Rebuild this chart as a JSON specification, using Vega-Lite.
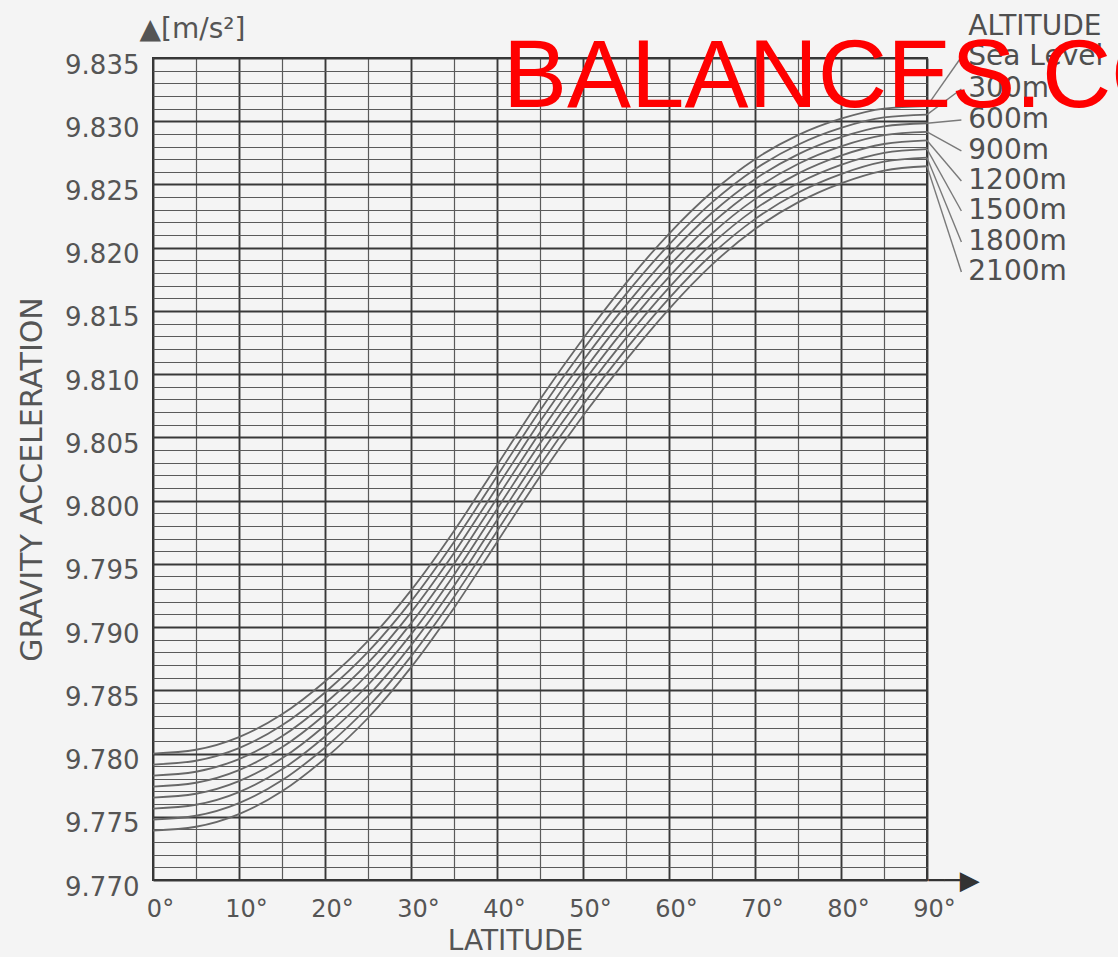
{
  "$schema": "https://vega.github.io/schema/vega-lite/v6.json",
  "width": 774,
  "height": 822,
  "autosize": {"type": "none"},
  "padding": {"left": 153, "top": 58, "right": 191, "bottom": 77},
  "background": "#f4f4f4",
  "title": {"text": "BALANCES.COM", "anchor": "start", "frame": "group", "orient": "top", "offset": 0, "dx": 350, "dy": 190, "fontSize": 96, "font": "Liberation Sans", "fontWeight": "normal", "color": "#ff0000", "baseline": "alphabetic", "zindex": 1},
  "config": {"view": {"stroke": "#333333", "strokeWidth": 2}, "font": "DejaVu Sans"},
  "datasets": {
    "curves": [
      {"lat": 0, "Sea Level": 9.78, "300m": 9.77913, "600m": 9.77826, "900m": 9.77739, "1200m": 9.77652, "1500m": 9.77565, "1800m": 9.77478, "2100m": 9.77391},
      {"lat": 5, "Sea Level": 9.7803, "300m": 9.77943, "600m": 9.77856, "900m": 9.77769, "1200m": 9.77682, "1500m": 9.77595, "1800m": 9.77508, "2100m": 9.77421},
      {"lat": 10, "Sea Level": 9.7813, "300m": 9.78043, "600m": 9.77956, "900m": 9.77869, "1200m": 9.77782, "1500m": 9.77695, "1800m": 9.77608, "2100m": 9.77521},
      {"lat": 15, "Sea Level": 9.7831, "300m": 9.78223, "600m": 9.78136, "900m": 9.78049, "1200m": 9.77962, "1500m": 9.77875, "1800m": 9.77788, "2100m": 9.77701},
      {"lat": 20, "Sea Level": 9.7857, "300m": 9.78483, "600m": 9.78396, "900m": 9.78309, "1200m": 9.78222, "1500m": 9.78135, "1800m": 9.78048, "2100m": 9.77961},
      {"lat": 25, "Sea Level": 9.7889, "300m": 9.78803, "600m": 9.78716, "900m": 9.78629, "1200m": 9.78542, "1500m": 9.78455, "1800m": 9.78368, "2100m": 9.78281},
      {"lat": 30, "Sea Level": 9.7929, "300m": 9.79203, "600m": 9.79116, "900m": 9.79029, "1200m": 9.78942, "1500m": 9.78855, "1800m": 9.78768, "2100m": 9.78681},
      {"lat": 35, "Sea Level": 9.7976, "300m": 9.79673, "600m": 9.79586, "900m": 9.79499, "1200m": 9.79412, "1500m": 9.79325, "1800m": 9.79238, "2100m": 9.79151},
      {"lat": 40, "Sea Level": 9.8028, "300m": 9.80193, "600m": 9.80106, "900m": 9.80019, "1200m": 9.79932, "1500m": 9.79845, "1800m": 9.79758, "2100m": 9.79671},
      {"lat": 45, "Sea Level": 9.808, "300m": 9.80713, "600m": 9.80626, "900m": 9.80539, "1200m": 9.80452, "1500m": 9.80365, "1800m": 9.80278, "2100m": 9.80191},
      {"lat": 50, "Sea Level": 9.8128, "300m": 9.81193, "600m": 9.81106, "900m": 9.81019, "1200m": 9.80932, "1500m": 9.80845, "1800m": 9.80758, "2100m": 9.80671},
      {"lat": 55, "Sea Level": 9.8172, "300m": 9.81633, "600m": 9.81546, "900m": 9.81459, "1200m": 9.81372, "1500m": 9.81285, "1800m": 9.81198, "2100m": 9.81111},
      {"lat": 60, "Sea Level": 9.8211, "300m": 9.82025, "600m": 9.8194, "900m": 9.81855, "1200m": 9.8177, "1500m": 9.81685, "1800m": 9.816, "2100m": 9.81515},
      {"lat": 65, "Sea Level": 9.8244, "300m": 9.82358, "600m": 9.82276, "900m": 9.82194, "1200m": 9.82112, "1500m": 9.8203, "1800m": 9.81948, "2100m": 9.81866},
      {"lat": 70, "Sea Level": 9.827, "300m": 9.82621, "600m": 9.82542, "900m": 9.82463, "1200m": 9.82384, "1500m": 9.82305, "1800m": 9.82226, "2100m": 9.82147},
      {"lat": 75, "Sea Level": 9.8289, "300m": 9.82814, "600m": 9.82738, "900m": 9.82662, "1200m": 9.82586, "1500m": 9.8251, "1800m": 9.82434, "2100m": 9.82358},
      {"lat": 80, "Sea Level": 9.8302, "300m": 9.82947, "600m": 9.82874, "900m": 9.82801, "1200m": 9.82728, "1500m": 9.82655, "1800m": 9.82582, "2100m": 9.82509},
      {"lat": 85, "Sea Level": 9.831, "300m": 9.8303, "600m": 9.8296, "900m": 9.8289, "1200m": 9.8282, "1500m": 9.8275, "1800m": 9.8268, "2100m": 9.8261},
      {"lat": 90, "Sea Level": 9.8312, "300m": 9.83052, "600m": 9.82984, "900m": 9.82916, "1200m": 9.82848, "1500m": 9.8278, "1800m": 9.82712, "2100m": 9.82644}
    ],
    "leaders": [
      {"alt": "Sea Level", "lat": 90, "g": 9.8312}, {"alt": "Sea Level", "lat": 94, "g": 9.83508},
      {"alt": "300m", "lat": 90, "g": 9.83052}, {"alt": "300m", "lat": 94, "g": 9.83255},
      {"alt": "600m", "lat": 90, "g": 9.82984}, {"alt": "600m", "lat": 94, "g": 9.8301},
      {"alt": "900m", "lat": 90, "g": 9.82916}, {"alt": "900m", "lat": 94, "g": 9.82765},
      {"alt": "1200m", "lat": 90, "g": 9.82848}, {"alt": "1200m", "lat": 94, "g": 9.82527},
      {"alt": "1500m", "lat": 90, "g": 9.8278}, {"alt": "1500m", "lat": 94, "g": 9.8229},
      {"alt": "1800m", "lat": 90, "g": 9.82712}, {"alt": "1800m", "lat": 94, "g": 9.82045},
      {"alt": "2100m", "lat": 90, "g": 9.82644}, {"alt": "2100m", "lat": 94, "g": 9.81808}
    ],
    "labels": [
      {"label": "ALTITUDE", "lat": 94.8, "g": 9.83745},
      {"label": "Sea Level", "lat": 94.8, "g": 9.83508},
      {"label": "300m", "lat": 94.8, "g": 9.83255},
      {"label": "600m", "lat": 94.8, "g": 9.8301},
      {"label": "900m", "lat": 94.8, "g": 9.82765},
      {"label": "1200m", "lat": 94.8, "g": 9.82527},
      {"label": "1500m", "lat": 94.8, "g": 9.8229},
      {"label": "1800m", "lat": 94.8, "g": 9.82045},
      {"label": "2100m", "lat": 94.8, "g": 9.81808}
    ]
  },
  "resolve": {"axis": {"x": "independent", "y": "independent"}},
  "layer": [
    {
      "data": {"name": "curves"},
      "transform": [{"fold": ["Sea Level", "300m", "600m", "900m", "1200m", "1500m", "1800m", "2100m"], "as": ["alt", "g"]}],
      "mark": {"type": "line", "interpolate": "monotone", "color": "#686868", "strokeWidth": 1.8},
      "encoding": {
        "x": {"field": "lat", "type": "quantitative", "scale": {"domain": [0, 90], "nice": false, "zero": false},
              "axis": {"orient": "bottom", "tickCount": 18, "grid": true, "gridColor": "#5a5a5a", "gridWidth": 1.2, "labels": false, "ticks": false, "domain": false, "title": null}},
        "y": {"field": "g", "type": "quantitative", "scale": {"domain": [9.77, 9.835], "nice": false, "zero": false},
              "axis": {"orient": "left", "tickCount": 65, "grid": true, "gridColor": "#5a5a5a", "gridWidth": 1.2, "labels": false, "ticks": false, "domain": false, "title": null}},
        "detail": {"field": "alt"}
      }
    },
    {
      "data": {"name": "leaders"},
      "mark": {"type": "line", "color": "#7a7a7a", "strokeWidth": 1.4},
      "encoding": {
        "x": {"field": "lat", "type": "quantitative", "scale": {"domain": [0, 90], "nice": false, "zero": false},
              "axis": {"orient": "bottom", "values": [0, 10, 20, 30, 40, 50, 60, 70, 80, 90], "labelExpr": "datum.value + '°'", "labelFlush": false, "labelOffset": 7, "grid": true, "gridColor": "#383838", "gridWidth": 1.8, "ticks": false, "domain": false, "labelFontSize": 24, "labelColor": "#555555", "labelPadding": 17, "labelFont": "DejaVu Sans",
                       "title": "LATITUDE", "titleFontSize": 28, "titleFontWeight": "normal", "titleColor": "#555555", "titleFont": "DejaVu Sans", "titleX": 362, "titleY": 69, "titleAlign": "center", "titleBaseline": "alphabetic"}},
        "y": {"field": "g", "type": "quantitative", "scale": {"domain": [9.77, 9.835], "nice": false, "zero": false},
              "axis": {"orient": "left", "values": [9.77, 9.775, 9.78, 9.785, 9.79, 9.795, 9.8, 9.805, 9.81, 9.815, 9.82, 9.825, 9.83, 9.835], "format": ".3f", "labelFlush": false, "grid": true, "gridColor": "#383838", "gridWidth": 1.8, "ticks": false, "domain": false, "labelFontSize": 26, "labelColor": "#555555", "labelPadding": 14, "labelOffset": 7, "labelFont": "DejaVu Sans",
                       "title": "GRAVITY ACCELERATION", "titleFontSize": 30, "titleFontWeight": "normal", "titleColor": "#555555", "titleFont": "DejaVu Sans", "titleX": -121, "titleY": 421, "titleAngle": -90, "titleAlign": "center", "titleBaseline": "middle"}},
        "detail": {"field": "alt"}
      }
    },
    {
      "data": {"name": "labels"},
      "mark": {"type": "text", "align": "left", "baseline": "middle", "fontSize": 28, "font": "DejaVu Sans", "color": "#4f4f4f"},
      "encoding": {
        "x": {"field": "lat", "type": "quantitative", "scale": {"domain": [0, 90], "nice": false, "zero": false},
              "axis": {"orient": "bottom", "values": [], "grid": false, "ticks": false, "domain": false, "labels": false,
                       "title": "──▶", "titleFontSize": 26, "titleFont": "DejaVu Sans", "titleFontWeight": "normal", "titleColor": "#333333", "titleX": 775, "titleY": 0, "titleAlign": "left", "titleBaseline": "middle"}},
        "y": {"field": "g", "type": "quantitative", "scale": {"domain": [9.77, 9.835], "nice": false, "zero": false},
              "axis": {"orient": "left", "values": [], "grid": false, "ticks": false, "domain": false, "labels": false,
                       "title": "▲[m/s²]", "titleFontSize": 28, "titleFont": "DejaVu Sans", "titleFontWeight": "normal", "titleColor": "#555555", "titleX": -14, "titleY": -29, "titleAngle": 0, "titleAlign": "left", "titleBaseline": "middle"}},
        "text": {"field": "label"}
      }
    }
  ]
}
